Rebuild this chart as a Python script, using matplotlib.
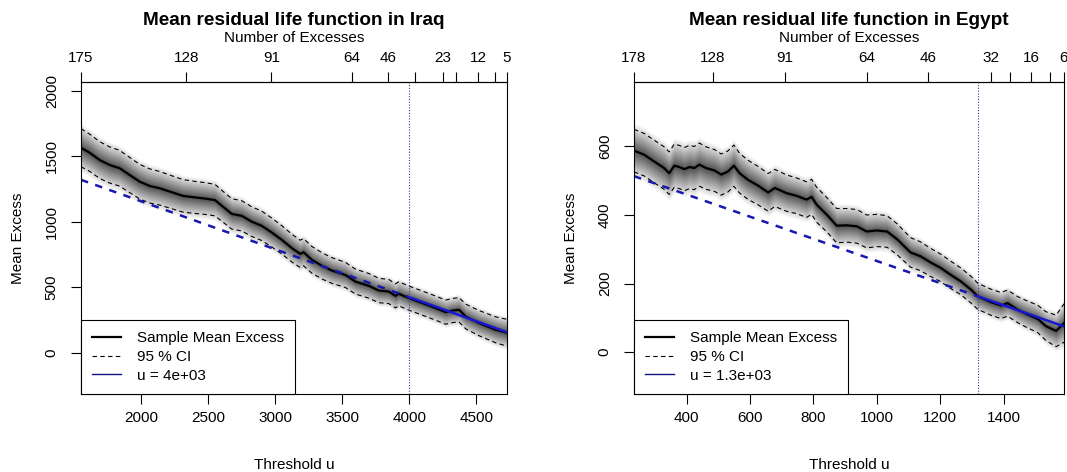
#%%
# mean residual life plots (Iraq / Egypt) in the style of R's evmix mrlplot
import numpy as np
import matplotlib.pyplot as plt

plt.rcParams['font.family'] = ['Liberation Sans', 'DejaVu Sans']

# %%
# Iraq: thresholds, sample mean excess, half width of the 95% CI
iraq_u = [1550, 1613, 1688, 1763, 1838, 1912, 1987, 2062, 2137, 2212, 2311, 2412,
          2474, 2549, 2623, 2674, 2749, 2823, 2898, 2973, 3048, 3123, 3185, 3210,
          3272, 3347, 3422, 3522, 3597, 3696, 3771, 3846, 3896, 3921, 3996, 4096,
          4195, 4270, 4320, 4370, 4420, 4520, 4644, 4728]
iraq_me = [1565, 1528, 1472, 1434, 1409, 1358, 1307, 1274, 1256, 1231, 1198, 1185,
           1178, 1166, 1104, 1061, 1046, 1002, 970, 919, 863, 800, 756, 769,
           711, 665, 629, 596, 545, 513, 477, 469, 436, 452, 419, 381,
           343, 312, 324, 330, 279, 228, 177, 155]
iraq_ci = [145, 142, 140, 138, 136, 134, 132, 130, 128, 126, 124, 122,
           121, 120, 117, 116, 115, 113, 112, 110, 108, 106, 104, 104,
           102, 100, 98, 96, 95, 94, 93, 92, 92, 92, 92, 92,
           92, 92, 92, 93, 94, 96, 99, 102]
iraq_thresh = 4000
iraq_xi, iraq_sigma = -0.576, 670
iraq_top_at = [1550, 2335, 2971, 3572, 3843, 4041, 4250, 4348, 4511, 4642, 4728]
iraq_top_lab = ['175', '128', '91', '64', '46', '', '23', '', '12', '', '5']
iraq_xticks = [2000, 2500, 3000, 3500, 4000, 4500]
iraq_yticks = [0, 500, 1000, 1500, 2000]

# Egypt
egypt_u = [234, 266, 298, 329, 345, 361, 377, 393, 409, 424, 440, 461, 488, 509,
           530, 549, 567, 593, 625, 657, 678, 715, 747, 778, 794, 810, 842, 873,
           905, 937, 968, 1000, 1032, 1063, 1106, 1137, 1169, 1201, 1232, 1264,
           1296, 1318, 1359, 1391, 1412, 1444, 1475, 1507, 1533, 1565, 1590]
egypt_me = [588, 576, 556, 537, 522, 544, 540, 534, 540, 537, 547, 537, 530, 518,
            527, 544, 522, 503, 486, 466, 479, 464, 456, 445, 453, 430, 401, 369,
            370, 367, 352, 355, 352, 330, 291, 280, 262, 246, 226, 207,
            183, 163, 146, 136, 143, 124, 110, 97, 76, 62, 85]
egypt_ci = [62, 62, 62, 62, 62, 63, 63, 63, 63, 63, 63, 62, 61, 60,
            60, 60, 58, 57, 56, 55, 54, 53, 52, 52, 51, 51, 50, 50,
            49, 49, 48, 47, 46, 45, 43, 42, 41, 40, 40, 39,
            39, 38, 38, 38, 38, 38, 39, 40, 42, 46, 56]
egypt_thresh = 1318
egypt_xi, egypt_sigma = -0.4775, 241
egypt_top_at = [234, 483, 710, 969, 1161, 1359, 1421, 1487, 1546, 1590]
egypt_top_lab = ['178', '128', '91', '64', '46', '32', '', '16', '', '6']
egypt_xticks = [400, 600, 800, 1000, 1200, 1400]
egypt_yticks = [0, 200, 400, 600]


# %%
def mrl_panel(ax, u, me, ci, thresh, xi, sigma, top_at, top_lab, xticks, yticks,
              ylim, title, ulab):
    u = np.array(u, float)
    me = np.array(me, float)
    se = np.array(ci, float) / 1.96

    # gray shading, darker towards the mean
    for q in np.linspace(2.6, 0.1, 30):
        g = 0.3 + 0.7 * q / 2.6
        ax.fill_between(u, me - q * se, me + q * se, color=str(min(g, 1.0)), lw=0)

    ax.plot(u, me + 1.96 * se, color='black', lw=0.8, ls=(0, (4, 3)))
    ax.plot(u, me - 1.96 * se, color='black', lw=0.8, ls=(0, (4, 3)))
    ax.plot(u, me, color='black', lw=1.6)

    # fitted GPD mean excess, dashed below the threshold
    gpd = lambda x: (sigma + xi * (x - thresh)) / (1 - xi)
    lo = np.array([u[0], thresh])
    hi = np.array([thresh, u[-1]])
    ax.plot(lo, gpd(lo), color='#1818b0', lw=1.8, ls=(0, (3, 3)))
    ax.plot(hi, gpd(hi), color='#1818d0', lw=1.8)
    ax.axvline(thresh, color='#3a3a90', lw=0.8, ls=(0, (1, 1.5)))

    ax.set_xlim(u[0], u[-1])
    ax.set_ylim(*ylim)
    ax.set_xticks(xticks)
    ax.set_yticks(yticks)
    ax.set_yticklabels([str(v) for v in yticks], rotation=90, va='center')
    ax.tick_params(direction='out', length=7, width=0.8, labelsize=11, pad=5)
    ax.tick_params(axis='y', pad=9)
    for s in ax.spines.values():
        s.set_linewidth(0.8)
    ax.set_xlabel('Threshold u', fontsize=11, labelpad=24)
    ax.set_ylabel('Mean Excess', fontsize=11, labelpad=14)

    top = ax.secondary_xaxis('top')
    top.set_xticks(top_at, top_lab)
    top.tick_params(direction='out', length=7, width=0.8, labelsize=11, pad=5)
    top.set_xlabel('Number of Excesses', fontsize=11, labelpad=7)
    ax.set_title(title, fontsize=13.7, fontweight='bold', pad=4)

    h1, = ax.plot([], [], color='black', lw=1.6)
    h2, = ax.plot([], [], color='black', lw=0.8, ls=(0, (4, 3)))
    h3, = ax.plot([], [], color='#101080', lw=1.0)
    leg = ax.legend([h1, h2, h3], ['Sample Mean Excess', '95 % CI', ulab],
                    loc='lower left', borderaxespad=0, fontsize=11,
                    fancybox=False, framealpha=1, edgecolor='black',
                    handlelength=1.9, handletextpad=1.0, borderpad=0.75,
                    labelspacing=0.3)
    leg.get_frame().set_linewidth(0.8)


fig = plt.figure(figsize=(10.67, 4.72), dpi=100)
W, H = 1067, 472
ax1 = fig.add_axes([81 / W, 1 - 394 / H, 426 / W, 312 / H])
ax2 = fig.add_axes([634 / W, 1 - 394 / H, 430 / W, 312 / H])

mrl_panel(ax1, iraq_u, iraq_me, iraq_ci, iraq_thresh, iraq_xi, iraq_sigma,
          iraq_top_at, iraq_top_lab, iraq_xticks, iraq_yticks, (-312, 2066),
          'Mean residual life function in Iraq', 'u = 4e+03')
mrl_panel(ax2, egypt_u, egypt_me, egypt_ci, egypt_thresh, egypt_xi, egypt_sigma,
          egypt_top_at, egypt_top_lab, egypt_xticks, egypt_yticks, (-122, 788),
          'Mean residual life function in Egypt', 'u = 1.3e+03')

fig.savefig('out.png', dpi=100)
